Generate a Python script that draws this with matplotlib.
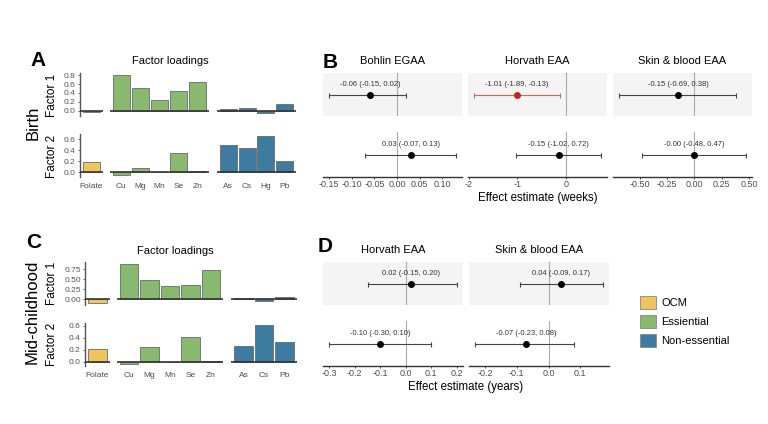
import matplotlib
matplotlib.use('Agg')
import matplotlib.pyplot as plt
from matplotlib.patches import Patch
import numpy as np

plt.rcParams['font.family'] = ['Liberation Sans', 'DejaVu Sans']
plt.rcParams['axes.unicode_minus'] = False

W, H = 768, 424

# factor loadings
group_colors = ['#F2C55C', '#87B96E', '#3D7BA0']
legend_labels = ['OCM', 'Essiential', 'Non-essential']

birth_elements = [['Folate'], ['Cu', 'Mg', 'Mn', 'Se', 'Zn'], ['As', 'Cs', 'Hg', 'Pb']]
birth_f1 = [[-0.03], [0.81, 0.52, 0.25, 0.44, 0.65], [0.04, 0.07, -0.06, 0.16]]
birth_f2 = [[0.19], [-0.06, 0.08, 0.0, 0.35, 0.02], [0.50, 0.45, 0.66, 0.20]]

mid_elements = [['Folate'], ['Cu', 'Mg', 'Mn', 'Se', 'Zn'], ['As', 'Cs', 'Pb']]
mid_f1 = [[-0.10], [0.89, 0.48, 0.32, 0.35, 0.73], [0.03, -0.06, 0.04]]
mid_f2 = [[0.22], [-0.03, 0.24, -0.01, 0.41, 0.02], [0.26, 0.61, 0.34]]

# effect estimates (row = factor, col = clock)
birth_models = ['Bohlin EGAA', 'Horvath EAA', 'Skin & blood EAA']
birth_est = [[-0.06, -1.01, -0.15], [0.03, -0.15, -0.00]]
birth_lo = [[-0.15, -1.89, -0.69], [-0.07, -1.02, -0.48]]
birth_hi = [[0.02, -0.13, 0.38], [0.13, 0.72, 0.47]]
birth_ticks = [[-0.15, -0.10, -0.05, 0.00, 0.05, 0.10], [-2, -1, 0],
               [-0.50, -0.25, 0.00, 0.25, 0.50]]
birth_fmt = ['%.2f', '%d', '%.2f']

mid_models = ['Horvath EAA', 'Skin & blood EAA']
mid_est = [[0.02, 0.04], [-0.10, -0.07]]
mid_lo = [[-0.15, -0.09], [-0.30, -0.23]]
mid_hi = [[0.20, 0.17], [0.10, 0.08]]
mid_ticks = [[-0.3, -0.2, -0.1, 0.0, 0.1, 0.2], [-0.2, -0.1, 0.0, 0.1]]
mid_fmt = ['%.1f', '%.1f']


def rect(x0, y0, x1, y1):
    return [x0 / W, 1 - y1 / H, (x1 - x0) / W, (y1 - y0) / H]


fig = plt.figure(figsize=(7.68, 4.24), dpi=100)


def loadings(elements, vals, xs, ys, ylims, yticks, yfmts):
    for r in range(2):
        for g in range(3):
            ax = fig.add_axes(rect(xs[g][0], ys[r][0], xs[g][1], ys[r][1]))
            ax.patch.set_alpha(0)
            n = len(elements[g])
            ax.bar(np.arange(n), vals[r][g], width=0.9, color=group_colors[g],
                   edgecolor='#6a6a6a', linewidth=0.6, zorder=2)
            ax.axhline(0, color='#333333', lw=1.2, zorder=3)
            ax.set_xlim(-0.6, n - 0.4)
            ax.set_ylim(*ylims[r])
            for s in ax.spines.values():
                s.set_visible(False)
            if g == 0:
                ax.spines['left'].set_visible(True)
                ax.spines['left'].set_color('#555555')
                ax.spines['left'].set_linewidth(1.0)
                ax.set_yticks(yticks[r])
                ax.set_yticklabels([yfmts[r] % t for t in yticks[r]])
                ax.tick_params(axis='y', length=1.5, pad=1.5, width=0.6,
                               labelsize=6, colors='#555555')
            else:
                ax.set_yticks([])
            if r == 1:
                ax.set_xticks(np.arange(n))
                ax.set_xticklabels(elements[g])
                ax.tick_params(axis='x', length=0, pad=4, labelsize=6,
                               labelcolor='#4D4D4D')
            else:
                ax.set_xticks([])


def forest(models, est, lo, hi, ticks, fmts, cols, rows, title_y, xlabel, xlabel_y):
    for c in range(len(models)):
        lmin = min(lo[0][c], lo[1][c])
        hmax = max(hi[0][c], hi[1][c])
        pad = 0.05 * (hmax - lmin)
        for r in range(2):
            ax = fig.add_axes(rect(cols[c][0], rows[r][0], cols[c][1], rows[r][1]))
            ax.set_facecolor('#F4F4F4' if r == 0 else 'white')
            e, l, h = est[r][c], lo[r][c], hi[r][c]
            sig = h < 0 or l > 0
            lcol = '#E06060' if sig else '#444444'
            pcol = '#CC2020' if sig else 'black'
            ax.axvline(0, color='#AAAAAA', lw=0.8, zorder=1)
            ax.errorbar([e], [0], xerr=[[e - l], [h - e]], fmt='none',
                        ecolor=lcol, elinewidth=0.8, capsize=1.8, capthick=0.8, zorder=2)
            ax.plot([e], [0], 'o', color=pcol, ms=4, zorder=3)
            ax.annotate('%.2f (%.2f, %.2f)' % (e, l, h), (e, 0), xytext=(0, 7),
                        textcoords='offset points', ha='center', va='center',
                        fontsize=5.5, color='#333333')
            ax.set_xlim(lmin - pad, hmax + pad)
            ax.set_ylim(-1, 1)
            ax.set_yticks([])
            for s in ax.spines.values():
                s.set_visible(False)
            if r == 1:
                ax.spines['bottom'].set_visible(True)
                ax.spines['bottom'].set_color('#333333')
                ax.spines['bottom'].set_linewidth(1.0)
                ax.set_xticks(ticks[c])
                ax.set_xticklabels([fmts[c] % t for t in ticks[c]])
                ax.tick_params(axis='x', length=1.5, width=0.6, pad=1,
                               labelsize=6.5, colors='#333333', labelcolor='#4D4D4D')
            else:
                ax.set_xticks([])
        fig.text((cols[c][0] + cols[c][1]) / 2 / W, 1 - title_y / H, models[c],
                 ha='center', va='center', fontsize=8)
    fig.text((cols[0][0] + cols[-1][1]) / 2 / W, 1 - xlabel_y / H, xlabel,
             ha='center', va='center', fontsize=8.3)


# Birth
loadings(birth_elements, [birth_f1, birth_f2],
         [(80, 103), (110, 209), (217, 296)], [(73, 116), (134, 177)],
         [(-0.12, 0.85), (-0.09, 0.70)],
         [[0, 0.2, 0.4, 0.6, 0.8], [0, 0.2, 0.4, 0.6]], ['%.1f', '%.1f'])
forest(birth_models, birth_est, birth_lo, birth_hi, birth_ticks, birth_fmt,
       [(323, 462), (468, 607), (613, 752)], [(73, 116), (132, 177)], 61,
       'Effect estimate (weeks)', 198)

# Mid-childhood
loadings(mid_elements, [mid_f1, mid_f2],
         [(85, 110), (117, 223), (231, 297)], [(262, 305), (323, 366)],
         [(-0.15, 0.93), (-0.07, 0.65)],
         [[0, 0.25, 0.5, 0.75], [0, 0.2, 0.4, 0.6]], ['%.2f', '%.1f'])
forest(mid_models, mid_est, mid_lo, mid_hi, mid_ticks, mid_fmt,
       [(323, 463), (469, 609)], [(262, 305), (321, 366)], 250,
       'Effect estimate (years)', 387)

# labels
def ftext(x, y, s, **kw):
    fig.text(x / W, 1 - y / H, s, ha='center', va='center', **kw)

ftext(38, 60, 'A', fontsize=15, fontweight='bold')
ftext(330, 62, 'B', fontsize=15, fontweight='bold')
ftext(34, 242, 'C', fontsize=15, fontweight='bold')
ftext(325, 246, 'D', fontsize=15, fontweight='bold')
ftext(170, 61, 'Factor loadings', fontsize=8)
ftext(175, 251, 'Factor loadings', fontsize=8)
ftext(33, 123, 'Birth', fontsize=12, rotation=90)
ftext(32, 312, 'Mid-childhood', fontsize=12, rotation=90)
ftext(52, 95, 'Factor 1', fontsize=8.5, rotation=90)
ftext(52, 156, 'Factor 2', fontsize=8.5, rotation=90)
ftext(52, 283, 'Factor 1', fontsize=8.5, rotation=90)
ftext(52, 344, 'Factor 2', fontsize=8.5, rotation=90)

handles = [Patch(facecolor=c, edgecolor='#888888', linewidth=0.6, label=l)
           for c, l in zip(group_colors, legend_labels)]
fig.legend(handles=handles, loc='upper left', bbox_to_anchor=(640 / W, 1 - 296 / H),
           frameon=False, fontsize=8, handlelength=1.4, handleheight=1.4,
           labelspacing=0.55, handletextpad=0.5, borderpad=0, borderaxespad=0)

fig.savefig('out.png', dpi=100)
